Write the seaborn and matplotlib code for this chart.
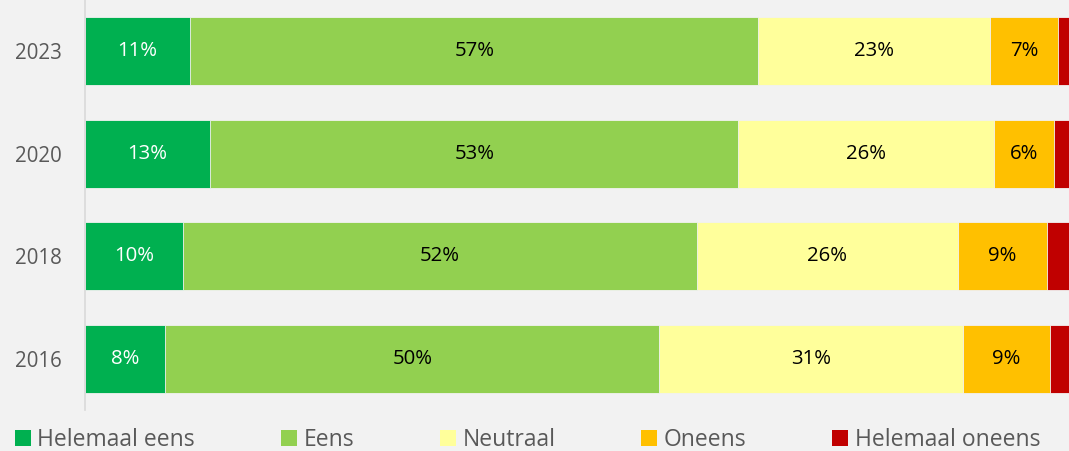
import matplotlib
matplotlib.use("Agg")
import matplotlib.pyplot as plt
from matplotlib.patches import Rectangle
import seaborn as sns
import numpy as np
import pandas as pd

years = ["2023", "2020", "2018", "2016"]
categories = ["Helemaal eens", "Eens", "Neutraal", "Oneens", "Helemaal oneens"]
helemaal_eens = [10.6, 12.6, 9.9, 8.1]
eens = [57.2, 53.2, 51.7, 49.7]
neutraal = [23.3, 25.7, 26.3, 30.6]
oneens = [6.9, 6.1, 9.0, 8.8]
helemaal_oneens = [2.0, 2.4, 3.1, 2.8]

colors = ["#00B050", "#92D050", "#FFFF9B", "#FFC000", "#C00000"]
label_colors = ["white", "black", "black", "black", None]
BG = "#F2F2F2"

sns.set_theme(style="white")
plt.rcParams["font.family"] = ["Open Sans", "DejaVu Sans"]

series = [helemaal_eens, eens, neutraal, oneens, helemaal_oneens]
df = pd.DataFrame({c: v for c, v in zip(categories, series)}, index=years)
cum = df.cumsum(axis=1)

fig = plt.figure(figsize=(10.69, 4.51), dpi=100, facecolor=BG)
W, H = 1069, 451
ax = fig.add_axes([85 / W, 1 - 410 / H, (1069 - 85) / W, 410 / H])
ax.set_facecolor(BG)

# draw cumulative bars from the last category to the first (stacked effect)
for i in range(len(categories) - 1, -1, -1):
    d = pd.DataFrame({"year": years, "value": cum[categories[i]].values})
    sns.barplot(data=d, x="value", y="year", orient="h", color=colors[i],
                width=0.663, ax=ax, edgecolor=BG, linewidth=0.6,
                saturation=1, order=years)

# value labels
for i, cat in enumerate(categories):
    if label_colors[i] is None:
        continue
    for j, yr in enumerate(years):
        v = df.loc[yr, cat]
        left = cum.loc[yr, cat] - v
        ax.text(left + v / 2, j, f"{v:.0f}%", ha="center", va="center",
                fontsize=14.7, color=label_colors[i])

ax.set_xlim(0, 984 / 9.93)
ax.set_ylim(3.5, -0.5)
ax.set_xlabel("")
ax.set_ylabel("")
ax.set_xticks([])
ax.tick_params(axis="y", length=0, pad=17, labelsize=14.8, labelcolor="#595959")
for s in ["top", "right", "bottom"]:
    ax.spines[s].set_visible(False)
ax.spines["left"].set_color("#D9D9D9")
ax.spines["left"].set_linewidth(1.2)

handles = [Rectangle((0, 0), 1, 1, facecolor=c, edgecolor="none") for c in colors]
leg = fig.legend(handles, categories, loc="center left",
                 bbox_to_anchor=(15 / W, 1 - 440 / H), ncol=5, frameon=False,
                 fontsize=16.5, handlelength=0.68, handleheight=0.68,
                 handletextpad=0.3, columnspacing=3.75, borderpad=0,
                 borderaxespad=0)
for t in leg.get_texts():
    t.set_color("#595959")

fig.savefig("out.png", dpi=100, facecolor=BG)
